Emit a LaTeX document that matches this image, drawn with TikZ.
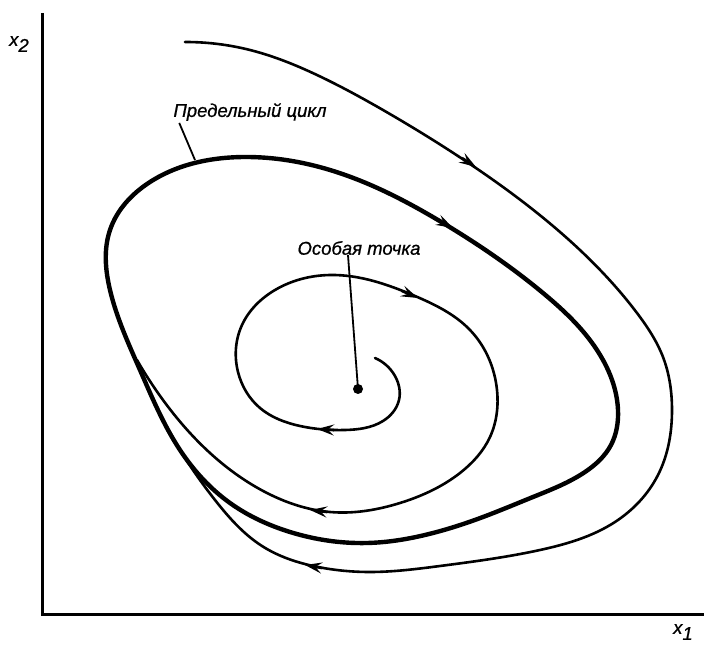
\documentclass[tikz,border=0pt]{standalone}
\usepackage{fontspec}
\setmainfont{Liberation Sans}
\newfontfamily\lblfont[FakeBold=0.8]{Liberation Sans}
\usetikzlibrary{arrows.meta,hobby}
\begin{document}
\begin{tikzpicture}[x=1pt,y=-1pt,
  thinline/.style={line width=2.6pt, line cap=round, line join=round},
  thickline/.style={line width=4.4pt, line join=round},
  axisline/.style={line width=3pt},
  lbl/.style={font=\lblfont\fontsize{18.5}{22}\selectfont\itshape, inner sep=0pt},
  flowtip/.style={-{Stealth[length=17pt,width=11pt,inset=6.5pt]}, line width=2.6pt},
  leader/.style={line width=1.8pt},
]
\useasboundingbox (0,0) rectangle (705,647);
% axes
\coordinate (ytop) at (42,13);
\coordinate (orig) at (42,614);
\coordinate (xend) at (704,614);
\draw[axisline] (ytop) -- (orig) -- (xend);
\node[lbl] (x2lbl) at (19,44) {x\raisebox{-6pt}{2}};
\node[lbl] (x1lbl) at (683,632) {x\raisebox{-6pt}{1}};
% limit cycle
\draw[thickline, use Hobby shortcut, closed=true]
 (245,157) .. (330,170) .. (443,223) .. (543,293) .. (603,360)
 .. (618,410) .. (611,445) .. (585,472) .. (533,497) .. (483,517)
 .. (433,533) .. (367,543) .. (290,532) .. (230,503) .. (180,450)
 .. (140,370) .. (110,290) .. (110,230) .. (150,182);
% outer trajectory
\draw[thinline, use Hobby shortcut]
 (185,42) .. (250,50) .. (317,75) .. (383,110) .. (467,162) .. (560,232)
 .. (637,313) .. (663,357) .. (672,410) .. (658,475) .. (615,522)
 .. (540,550) .. (440,566) .. (370,572) .. (318,567) .. (262,546)
 .. (215,500) .. (180,450) .. (156,405);
% inner spiral from the singular point
\draw[thinline, use Hobby shortcut]
 (375,358) .. (395,376) .. (399,400) .. (383,421) .. (345,430) .. (300,426)
 .. (260,408) .. (238,372) .. (242,325) .. (275,290) .. (330,275)
 .. (415,296) .. (470,330) .. (497,390) .. (490,437) .. (460,473)
 .. (400,503) .. (330,512) .. (267,493) .. (210,453) .. (163,400)
 .. (137,360);
% arrow heads
\coordinate (a1b) at (462,158); \coordinate (a1t) at (476,167);
\coordinate (a2b) at (438,220); \coordinate (a2t) at (453,228);
\coordinate (a3b) at (402,291); \coordinate (a3t) at (418,298);
\coordinate (a4b) at (334,430); \coordinate (a4t) at (317,429);
\coordinate (a5b) at (327,512); \coordinate (a5t) at (310,510);
\coordinate (a6b) at (322,568); \coordinate (a6t) at (305,565);
\draw[flowtip] (a1b) -- (a1t);
\draw[flowtip] (a2b) -- (a2t);
\draw[flowtip] (a3b) -- (a3t);
\draw[flowtip] (a4b) -- (a4t);
\draw[flowtip] (a5b) -- (a5t);
\draw[flowtip] (a6b) -- (a6t);
% singular point
\node[circle, fill, inner sep=0pt, minimum size=10pt] (sp) at (358,389) {};
\node[lbl] (splbl) at (359,248) {Особая точка};
\draw[leader] ([xshift=-11pt]splbl.south) -- (sp.center);
% limit cycle label
\node[lbl] (lclbl) at (250,112) {Предельный цикл};
\coordinate (lcp) at (195,160);
\draw[leader] ([xshift=6pt,yshift=-2pt]lclbl.south west) -- (lcp);
\end{tikzpicture}
\end{document}
